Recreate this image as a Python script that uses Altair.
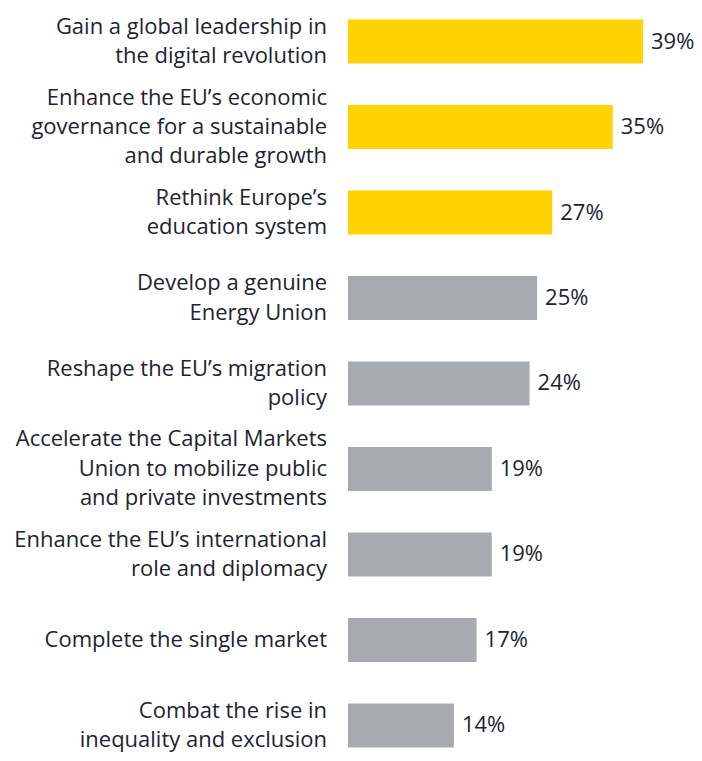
import altair as alt
import pandas as pd

categories = [
    "Gain a global leadership in|the digital revolution",
    "Enhance the EU\u2019s economic|governance for a sustainable|and durable growth",
    "Rethink Europe\u2019s|education system",
    "Develop a genuine|Energy Union",
    "Reshape the EU\u2019s migration|policy",
    "Accelerate the Capital Markets|Union to mobilize public|and private investments",
    "Enhance the EU\u2019s international|role and diplomacy",
    "Complete the single market",
    "Combat the rise in|inequality and exclusion",
]
values = [39, 35, 27, 25, 24, 19, 19, 17, 14]
highlight = [True, True, True, False, False, False, False, False, False]

df = pd.DataFrame({"cat": categories, "val": values, "hl": highlight})
df["lbl"] = df["val"].astype(str) + "%"
df["n"] = df["cat"].str.count(r"\|") + 1

FONT = "Open Sans"
TXT = "#1f2330"
LH = 29.5

y = alt.Y("cat:N", sort=categories, title=None,
          scale=alt.Scale(paddingInner=0.485, paddingOuter=0.1345, range=[0, 751]),
          axis=None)
x = alt.X("val:Q", title=None, scale=alt.Scale(domain=[0, 40]), axis=None)

base = alt.Chart(df)

bars = base.mark_bar().encode(
    y=y, x=x,
    color=alt.Color("hl:N", scale=alt.Scale(domain=[True, False], range=["#FFD200", "#A7ABB0"]), legend=None),
)
values_txt = base.mark_text(align="left", baseline="middle", dx=8, fontSize=22, font=FONT, color=TXT).encode(
    y=y, x=x, text="lbl:N")

cat_layers = []
for n in (1, 2, 3):
    cat_layers.append(
        base.transform_filter(alt.datum.n == n).mark_text(
            align="right", baseline="middle", fontSize=22, font=FONT, color=TXT,
            lineBreak="|", lineHeight=LH, dy=-(n - 1) * LH / 2,
        ).encode(y=y, x=alt.value(-21), text="cat:N")
    )

chart = alt.layer(bars, values_txt, *cat_layers).properties(
    width=302.6, height=745,
    autosize=alt.AutoSizeParams(type="none"),
    padding={"left": 340, "top": 0, "right": 43, "bottom": 0},
).configure(background="white").configure_view(stroke=None, strokeWidth=0)

chart.save("out.html", embed_options={"renderer": "svg", "actions": False})
